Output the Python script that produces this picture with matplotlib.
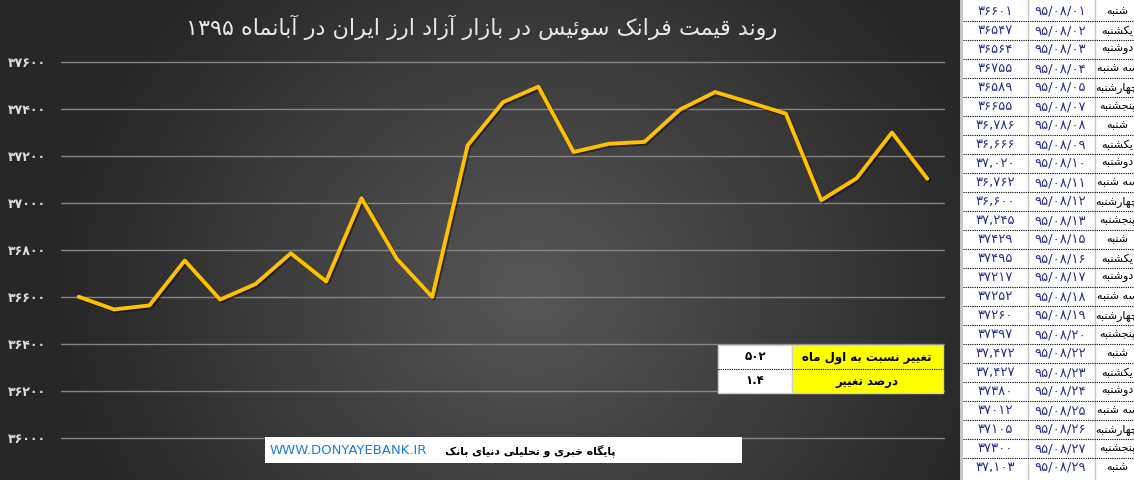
import re
import numpy as np
import matplotlib
matplotlib.use('Agg')
import matplotlib.pyplot as plt
import matplotlib.patheffects as pe
from matplotlib.patches import Rectangle

# === Data ===
dates = ['95/08/01', '95/08/02', '95/08/03', '95/08/04', '95/08/05', '95/08/07',
         '95/08/08', '95/08/09', '95/08/10', '95/08/11', '95/08/12', '95/08/13',
         '95/08/15', '95/08/16', '95/08/17', '95/08/18', '95/08/19', '95/08/20',
         '95/08/22', '95/08/23', '95/08/24', '95/08/25', '95/08/26', '95/08/27',
         '95/08/29']
days = ['شنبه', 'یکشنبه', 'دوشنبه', 'سه شنبه', 'چهارشنبه', 'پنجشنبه',
        'شنبه', 'یکشنبه', 'دوشنبه', 'سه شنبه', 'چهارشنبه', 'پنجشنبه',
        'شنبه', 'یکشنبه', 'دوشنبه', 'سه شنبه', 'چهارشنبه', 'پنجشنبه',
        'شنبه', 'یکشنبه', 'دوشنبه', 'سه شنبه', 'چهارشنبه', 'پنجشنبه',
        'شنبه']
values = [36601, 36547, 36564, 36755, 36589, 36655, 36786, 36666, 37020, 36762,
          36600, 37245, 37429, 37495, 37217, 37252, 37260, 37397, 37472, 37427,
          37380, 37012, 37105, 37300, 37103]
value_labels = ['36601', '36547', '36564', '36755', '36589', '36655', '36,786',
                '36,666', '37,020', '36,762', '36,600', '37,245', '37429', '37495',
                '37217', '37252', '37260', '37397', '37,472', '37,427', '37380',
                '37012', '37105', '37300', '37,103']
y_ticks = [36000, 36200, 36400, 36600, 36800, 37000, 37200, 37400, 37600]

title = 'روند قیمت فرانک سوئیس در بازار آزاد ارز ایران در آبانماه 1395'
summary_labels = ['تغییر نسبت به اول ماه', 'درصد تغییر']
site_url = 'WWW.DONYAYEBANK.IR'
site_name = 'پایگاه خبری و تحلیلی دنیای بانک'

change = values[-1] - values[0]
change_pct = round(change / values[0] * 100, 1)
summary_values = [str(change), str(change_pct)]

# === Poor man's Persian shaping (matplotlib has no bidi/shaping) ===
FORMS = {
    'آ': ('\uFE81', '\uFE82'), 'ا': ('\uFE8D', '\uFE8E'),
    'د': ('\uFEA9', '\uFEAA'), 'ذ': ('\uFEAB', '\uFEAC'),
    'ر': ('\uFEAD', '\uFEAE'), 'ز': ('\uFEAF', '\uFEB0'),
    'ژ': ('\uFB8A', '\uFB8B'), 'و': ('\uFEED', '\uFEEE'),
    'ب': ('\uFE8F', '\uFE90', '\uFE91', '\uFE92'),
    'پ': ('\uFB56', '\uFB57', '\uFB58', '\uFB59'),
    'ت': ('\uFE95', '\uFE96', '\uFE97', '\uFE98'),
    'ج': ('\uFE9D', '\uFE9E', '\uFE9F', '\uFEA0'),
    'چ': ('\uFB7A', '\uFB7B', '\uFB7C', '\uFB7D'),
    'ح': ('\uFEA1', '\uFEA2', '\uFEA3', '\uFEA4'),
    'خ': ('\uFEA5', '\uFEA6', '\uFEA7', '\uFEA8'),
    'س': ('\uFEB1', '\uFEB2', '\uFEB3', '\uFEB4'),
    'ش': ('\uFEB5', '\uFEB6', '\uFEB7', '\uFEB8'),
    'ص': ('\uFEB9', '\uFEBA', '\uFEBB', '\uFEBC'),
    'غ': ('\uFECD', '\uFECE', '\uFECF', '\uFED0'),
    'ف': ('\uFED1', '\uFED2', '\uFED3', '\uFED4'),
    'ق': ('\uFED5', '\uFED6', '\uFED7', '\uFED8'),
    'ک': ('\uFB8E', '\uFB8F', '\uFB90', '\uFB91'),
    'ك': ('\uFED9', '\uFEDA', '\uFEDB', '\uFEDC'),
    'گ': ('\uFB92', '\uFB93', '\uFB94', '\uFB95'),
    'ل': ('\uFEDD', '\uFEDE', '\uFEDF', '\uFEE0'),
    'م': ('\uFEE1', '\uFEE2', '\uFEE3', '\uFEE4'),
    'ن': ('\uFEE5', '\uFEE6', '\uFEE7', '\uFEE8'),
    'ه': ('\uFEE9', '\uFEEA', '\uFEEB', '\uFEEC'),
    'ی': ('\uFBFC', '\uFBFD', '\uFBFE', '\uFBFF'),
    'ي': ('\uFEF1', '\uFEF2', '\uFEF3', '\uFEF4'),
    'ئ': ('\uFE89', '\uFE8A', '\uFE8B', '\uFE8C'),
}
FA_DIGITS = str.maketrans('0123456789', '۰۱۲۳۴۵۶۷۸۹')


def shape(s):
    out = []
    for i, ch in enumerate(s):
        f = FORMS.get(ch)
        if f is None:
            out.append(ch); continue
        prev = s[i-1] if i > 0 else ''
        nxt = s[i+1] if i < len(s)-1 else ''
        jp = prev in FORMS and len(FORMS[prev]) == 4
        jn = len(f) == 4 and nxt in FORMS
        out.append(f[3] if jp and jn else f[1] if jp else f[2] if jn else f[0])
    return ''.join(out)


def fa(s):
    s = shape(s.translate(FA_DIGITS))
    toks = re.findall(r'[0-9۰-۹][0-9۰-۹.,/]*|[^0-9۰-۹]+', s)
    return ''.join(t if t[0] in '0123456789۰۱۲۳۴۵۶۷۸۹' else t[::-1]
                   for t in reversed(toks))


FONT = 'DejaVu Sans'
W, H = 1134, 480
fig = plt.figure(figsize=(W/100, H/100), dpi=100)

# background axes in pixel coordinates
bg = fig.add_axes([0, 0, 1, 1])
yy, xx = np.mgrid[0:H, 0:960]
d = np.sqrt(((xx-530)/470.)**2 + ((yy-290)/420.)**2)
v = 0x57/255. - (0x57-0x27)/255.*np.clip(d, 0, 1)
bg.imshow(np.dstack([v, v, v]), extent=(0, 960, H, 0), aspect='auto', zorder=0)
bg.set_xlim(0, W); bg.set_ylim(H, 0); bg.axis('off')

bg.text(482, 27, fa(title), ha='center', va='center', color='#e8e8e8',
        fontsize=16, family=FONT)

# right data table
bg.add_patch(Rectangle((960, 0), 174, H, fc='white', ec='none', zorder=1))
bg.add_patch(Rectangle((960, 0), 3, H, fc='#c8c8c8', ec='none', zorder=2))
for x in [1028, 1095]:
    bg.plot([x, x], [0, H], color='#c6c6c6', lw=1, zorder=2)
top0, rh = 2.0, 19.0
for i in range(1, len(dates)):
    y = top0 + i*rh
    bg.plot([963, W], [y, y], color='black', lw=0.8, ls=(0, (1, 1)), zorder=2)
for i in range(len(dates)):
    yc = top0 + (i+0.5)*rh
    bg.text(995, yc, fa(value_labels[i]), ha='center', va='center',
            color='#2E3192', fontsize=9.5, family=FONT, zorder=3)
    bg.text(1060, yc, fa(dates[i]), ha='center', va='center',
            color='#2E3192', fontsize=9.5, family=FONT, zorder=3)
    bg.text(1117, yc, fa(days[i]), ha='center', va='center', color='black',
            fontsize=8, family=FONT, zorder=3, clip_on=True)

# === Line chart ===
ax = fig.add_axes([61/W, 40/H, 884/W, 380/H], zorder=1)
ax.patch.set_alpha(0)
pad = 2/0.235
ax.set_xlim(-0.5, len(values)-0.5)
ax.set_ylim(y_ticks[0]-pad, y_ticks[-1]+pad)
for s in ax.spines.values():
    s.set_visible(False)
ax.set_xticks([])
ax.set_yticks(y_ticks)
ax.set_yticklabels([fa(str(t)) for t in y_ticks], color='#dcdcdc',
                   fontsize=9, fontweight='bold', family=FONT)
ax.tick_params(axis='y', length=0, pad=11)
ax.yaxis.grid(True, color='#858585', lw=1)
ax.set_axisbelow(True)
ax.plot(range(len(values)), values, color='#FFC000', lw=2.8,
        solid_joinstyle='round', solid_capstyle='round',
        path_effects=[pe.SimpleLineShadow(offset=(1.2, -1.2), shadow_color='black',
                                          alpha=0.45), pe.Normal()])

# === Overlay: summary table and footer ===
ov = fig.add_axes([0, 0, 1, 1], zorder=2)
ov.set_xlim(0, W); ov.set_ylim(H, 0); ov.axis('off')
ov.add_patch(Rectangle((718, 345), 74, 48, fc='white', ec='#cfcfcf', lw=1))
ov.add_patch(Rectangle((792, 345), 151, 48, fc='#FFFF00', ec='#cfcfcf', lw=1))
ov.plot([718, 943], [369, 369], color='black', lw=0.8, ls=(0, (1, 1)))
for i in range(2):
    yc = 357 + 24*i
    ov.text(867, yc, fa(summary_labels[i]), ha='center', va='center',
            color='black', fontsize=8.5, fontweight='bold', family=FONT)
    ov.text(755, yc, fa(summary_values[i]), ha='center', va='center',
            color='black', fontsize=8.5, fontweight='bold', family=FONT)

ov.add_patch(Rectangle((265, 437), 477, 26, fc='white', ec='none'))
ov.text(270, 450.5, site_url, ha='left', va='center', color='#1F7ED4',
        fontsize=9.5, family=FONT)
ov.text(615, 450.5, fa(site_name), ha='right', va='center', color='black',
        fontsize=7.8, fontweight='bold', family=FONT)

fig.savefig('out.png', dpi=100)
